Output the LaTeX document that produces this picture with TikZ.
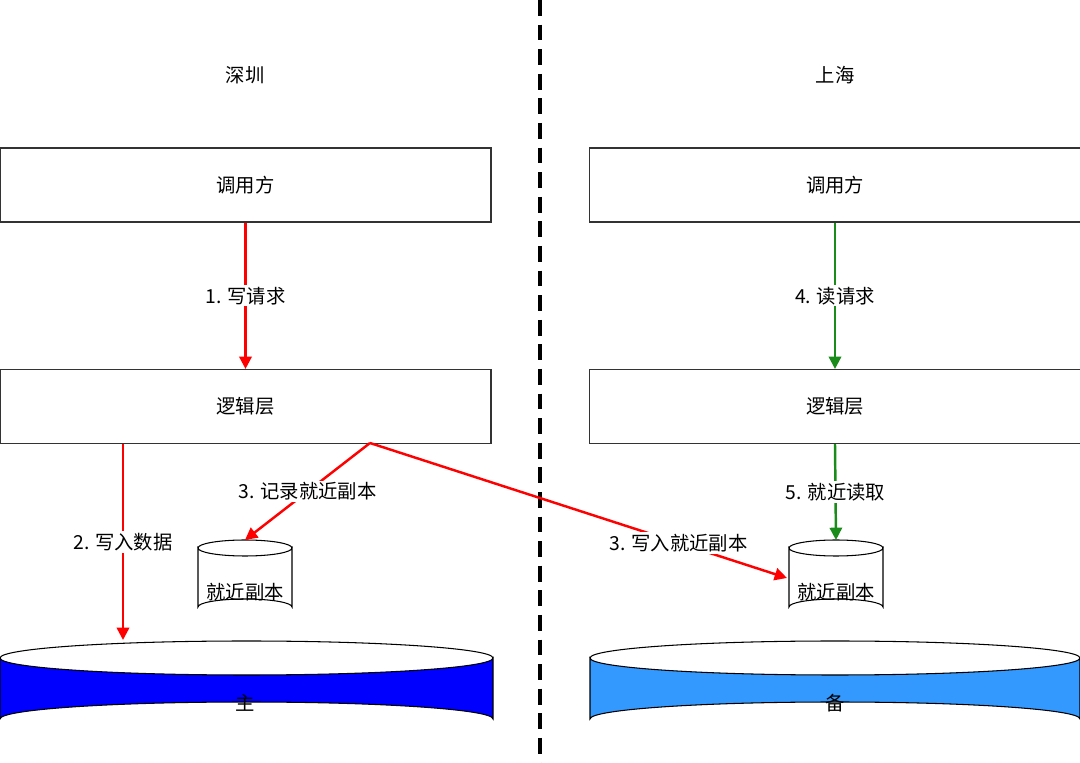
\documentclass[tikz,border=0pt]{standalone}
\usepackage{fontspec}
\setmainfont{Noto Sans CJK SC}
\usetikzlibrary{arrows.meta}
\begin{document}
\begin{tikzpicture}[x=0.02cm,y=-0.02cm,font=\fontsize{11}{13}\selectfont,
  box/.style={draw=black!80,line width=0.6pt,minimum width=491*0.02cm,minimum height=74*0.02cm,inner sep=0},
  redarr/.style={draw=red,line width=1.4pt,-{Triangle[length=7pt,width=7pt]}},
  grnarr/.style={draw=black!50!green!90,line width=1.4pt,-{Triangle[length=7pt,width=7pt]}},
  lbl/.style={fill=white,inner sep=1pt}]
\useasboundingbox (0,0) rectangle (1080,763);
\draw[line width=1.8pt,dash pattern=on 9pt off 5pt] (540,0) -- (540,763);
\node (sz) at (245,75) {深圳};
\node (sh) at (835,75) {上海};
\node[box] (c1) at (245.5,185) {调用方};
\node[box] (c2) at (835,185) {调用方};
\node[box] (l1) at (245.5,406.5) {逻辑层};
\node[box] (l2) at (835,406.5) {逻辑层};
% small cylinders
\newcommand\scyl[2]{%
 \draw[fill=white,line width=0.6pt] (#1-47,548) -- (#1-47,607) arc[start angle=180,end angle=360,x radius=47,y radius=8] -- (#1+47,548) arc[start angle=0,end angle=180,x radius=47,y radius=8] -- cycle;
 \draw[line width=0.6pt] (#1-47,548) arc[start angle=180,end angle=360,x radius=47,y radius=8];}
\scyl{245}{}
\scyl{836}{}
\node (r1) at (245,592) {就近副本};
\node (r2) at (836,592) {就近副本};
\coordinate (r1t) at (245,540);
\coordinate (r2t) at (836,540);
\coordinate (r2l) at (787,578);
% big cylinders
\newcommand\bcyl[3]{%
 \draw[fill=#3,line width=0.6pt] (#1,658) -- (#1,719) arc[start angle=180,end angle=360,x radius=#2/2,y radius=17] -- (#1+#2,658) arc[start angle=0,end angle=180,x radius=#2/2,y radius=17] -- cycle;
 \draw[line width=0.6pt] (#1,658) arc[start angle=180,end angle=360,x radius=#2/2,y radius=17];}
\bcyl{0}{493}{blue}
\definecolor{lblue}{RGB}{51,153,255}
\bcyl{590}{490}{lblue}
\node (m) at (245,703) {主};
\node (b) at (835,703) {备};
\coordinate (mt) at (123,640);
% arrows
\draw[redarr] (c1.south) -- node[lbl]{1. 写请求} (l1.north);
\draw[grnarr] (c2.south) -- node[lbl]{4. 读请求} (l2.north);
\draw[redarr] (l1.south -| mt) -- node[lbl,pos=0.5]{2. 写入数据} (mt);
\coordinate (ls) at (370,443);
\draw[redarr] (ls) -- node[lbl,pos=0.5]{3. 记录就近副本} (r1t);
\draw[redarr] (ls) -- node[lbl,pos=0.74]{3. 写入就近副本} (r2l);
\draw[grnarr] (l2.south) -- node[lbl]{5. 就近读取} (r2t);
\end{tikzpicture}
\end{document}
